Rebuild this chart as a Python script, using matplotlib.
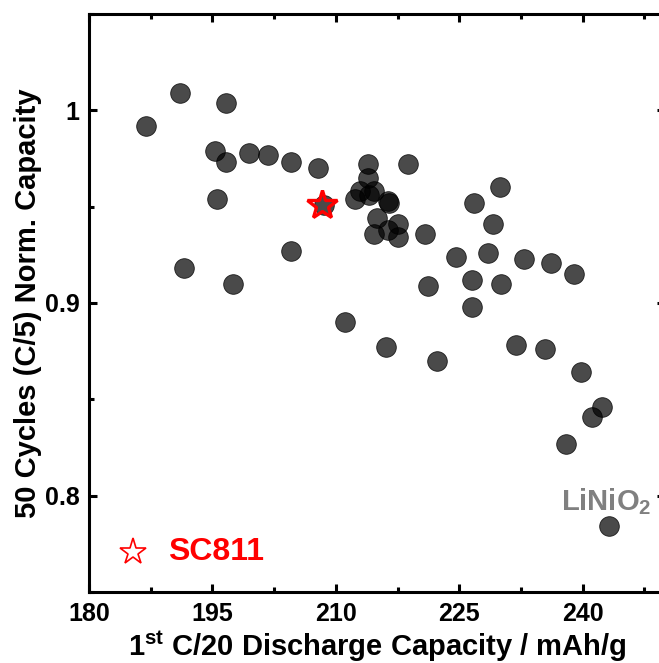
import matplotlib
matplotlib.use("Agg")
import matplotlib.pyplot as plt
from matplotlib.ticker import MultipleLocator, FuncFormatter

plt.rcParams['font.family'] = ['Liberation Sans', 'DejaVu Sans']
plt.rcParams['font.weight'] = 'bold'
plt.rcParams['axes.labelweight'] = 'bold'
plt.rcParams['mathtext.fontset'] = 'custom'
plt.rcParams['mathtext.rm'] = 'Liberation Sans:bold'
plt.rcParams['mathtext.bf'] = 'Liberation Sans:bold'

# 1st C/20 discharge capacity (mAh/g) and 50-cycle normalised capacity
capacity = [186.9, 191.1, 196.7, 195.3, 196.6, 199.4, 201.8, 204.5, 207.8,
            195.6, 191.6, 197.5, 204.6, 208.6, 211.1, 216.1, 222.3,
            213.9, 218.8, 213.9, 212.9, 214.6, 212.3, 214.0, 216.3, 216.4,
            215.0, 214.6, 216.3, 217.6, 217.5, 220.8,
            229.9, 226.8, 229.1, 224.6, 228.5, 232.9, 236.2, 239.0,
            226.5, 230.1, 221.2, 226.5, 231.9, 235.4, 239.8,
            242.4, 241.1, 238.0, 243.2]
retention = [0.992, 1.009, 1.004, 0.979, 0.973, 0.978, 0.977, 0.973, 0.970,
             0.954, 0.918, 0.910, 0.927, 0.951, 0.890, 0.877, 0.870,
             0.972, 0.972, 0.965, 0.958, 0.958, 0.954, 0.956, 0.953, 0.952,
             0.944, 0.936, 0.938, 0.941, 0.934, 0.936,
             0.960, 0.952, 0.941, 0.924, 0.926, 0.923, 0.921, 0.915,
             0.912, 0.910, 0.909, 0.898, 0.878, 0.876, 0.864,
             0.846, 0.841, 0.827, 0.784]

sc811_x = [208.3]
sc811_y = [0.951]

fig = plt.figure(figsize=(6.59, 6.63), dpi=100)
ax = fig.add_axes([89 / 659, 71 / 663, 576 / 659, 578 / 663])

ax.scatter(capacity, retention, s=200, facecolor=(0, 0, 0, 0.71),
           edgecolor=(0, 0, 0, 0.8), linewidth=0.6, zorder=2)
ax.plot(sc811_x, sc811_y, marker='*', linestyle='none', markersize=22,
        markerfacecolor='none', markeredgecolor='red', markeredgewidth=2.4,
        zorder=3)

ax.set_xlim(180, 250)
ax.set_ylim(0.75, 1.05)
ax.xaxis.set_major_locator(MultipleLocator(15))
ax.xaxis.set_minor_locator(MultipleLocator(7.5))
ax.yaxis.set_major_locator(MultipleLocator(0.1))
ax.yaxis.set_minor_locator(MultipleLocator(0.05))
ax.yaxis.set_major_formatter(FuncFormatter(lambda v, p: '%g' % round(v, 2)))

for s in ax.spines.values():
    s.set_linewidth(2.2)
ax.tick_params(which='both', direction='in', top=True, right=True, width=2.2)
ax.tick_params(which='major', length=6, labelsize=18, pad=7)
ax.tick_params(which='minor', length=3.5)

ax.set_xlabel(r'1$^{\mathrm{st}}$ C/20 Discharge Capacity / mAh/g',
              fontsize=21, labelpad=2)
ax.set_ylabel('50 Cycles (C/5) Norm. Capacity', fontsize=21, labelpad=1.5)

# legend-like annotation
ax.plot([0.077], [0.07], transform=ax.transAxes, marker='*', markersize=20,
        markerfacecolor='none', markeredgecolor='red', markeredgewidth=1.2,
        clip_on=False)
ax.text(0.138, 0.07, 'SC811', transform=ax.transAxes, color='red',
        fontsize=23, va='center', ha='left')

ax.text(242.9, 0.797, r'LiNiO$_2$', color='#808080', fontsize=21,
        ha='center', va='center')

fig.savefig('out.png', dpi=100)
